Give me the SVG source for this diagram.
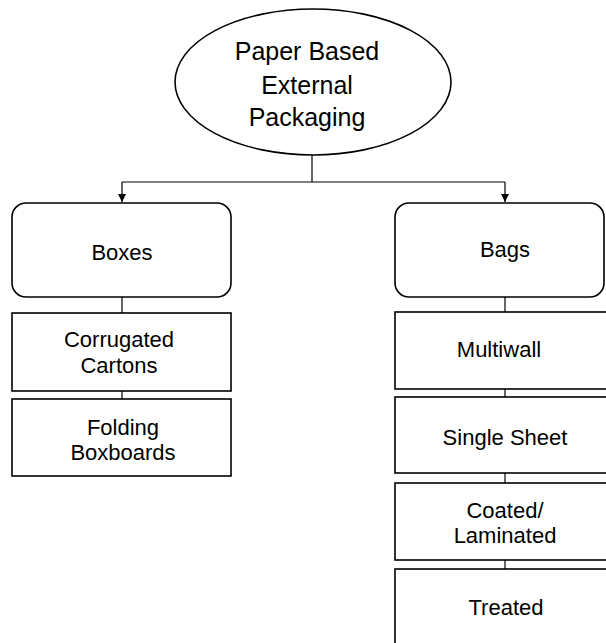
<svg xmlns="http://www.w3.org/2000/svg" width="606" height="643" viewBox="0 0 606 643">
<style>
.n{fill:#fff;stroke:#000;stroke-width:1.6}
.t{font-family:"Liberation Sans",Arial,sans-serif;font-size:22px;fill:#000;text-anchor:middle}
.big{font-size:25px}
.c{stroke:#000;stroke-width:1.2;fill:none}
</style>
<defs>
<marker id="ah" viewBox="0 0 10 10" refX="10" refY="5" markerWidth="8" markerHeight="8" markerUnits="userSpaceOnUse" orient="auto">
<path d="M0,0 L10,5 L0,10 z" fill="#000"/>
</marker>
</defs>
<rect width="606" height="643" fill="#fff"/>
<g id="connectors">
<path class="c" d="M312,155 V182"/>
<path class="c" d="M122,182 H505"/>
<path class="c" d="M122,182 V202" marker-end="url(#ah)"/>
<path class="c" d="M505,182 V202" marker-end="url(#ah)"/>
<path class="c" d="M122,297 V313"/>
<path class="c" d="M122,391 V399"/>
<path class="c" d="M505,297 V312"/>
<path class="c" d="M505,389 V397"/>
<path class="c" d="M505,473 V483"/>
<path class="c" d="M505,560 V569"/>
</g>
<g id="root">
<ellipse class="n" cx="313" cy="82" rx="138" ry="73"/>
<text class="t big" x="307" y="60">Paper Based</text>
<text class="t big" x="307" y="94">External</text>
<text class="t big" x="307" y="126">Packaging</text>
</g>
<g id="boxes">
<rect class="n" x="12" y="203" width="219" height="94" rx="14"/>
<text class="t" x="122" y="260">Boxes</text>
</g>
<g id="corrugated">
<rect class="n" x="12" y="313" width="219" height="78"/>
<text class="t" x="119" y="347">Corrugated</text>
<text class="t" x="119" y="373">Cartons</text>
</g>
<g id="folding">
<rect class="n" x="12" y="399" width="219" height="77"/>
<text class="t" x="123" y="435">Folding</text>
<text class="t" x="123" y="460">Boxboards</text>
</g>
<g id="bags">
<rect class="n" x="395" y="203" width="209" height="94" rx="14"/>
<text class="t" x="505" y="257">Bags</text>
</g>
<g id="multiwall">
<rect class="n" x="395" y="312" width="220" height="77"/>
<text class="t" x="499" y="357">Multiwall</text>
</g>
<g id="singlesheet">
<rect class="n" x="395" y="397" width="220" height="76"/>
<text class="t" x="505" y="445">Single Sheet</text>
</g>
<g id="coated">
<rect class="n" x="395" y="483" width="220" height="77"/>
<text class="t" x="505" y="518">Coated/</text>
<text class="t" x="505" y="543">Laminated</text>
</g>
<g id="treated">
<rect class="n" x="395" y="569" width="220" height="90"/>
<text class="t" x="506" y="615">Treated</text>
</g>
</svg>
